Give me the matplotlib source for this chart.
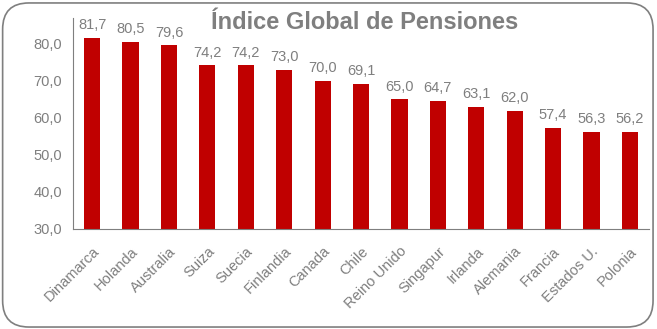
import numpy as np
import matplotlib.pyplot as plt
from matplotlib.patches import FancyBboxPatch

paises = ['Dinamarca', 'Holanda', 'Australia', 'Suiza', 'Suecia', 'Finlandia', 'Canada',
          'Chile', 'Reino Unido', 'Singapur', 'Irlanda', 'Alemania', 'Francia',
          'Estados U.', 'Polonia']
indice = [81.7, 80.5, 79.6, 74.2, 74.2, 73.0, 70.0, 69.1, 65.0, 64.7, 63.1, 62.0, 57.4, 56.3, 56.2]
yticks = [30, 40, 50, 60, 70, 80]

plt.rcParams['font.family'] = ['Liberation Sans', 'DejaVu Sans']
gris = '#7f7f7f'
rojo = '#c00000'

fig = plt.figure(figsize=(6.57, 3.29), dpi=100)
marco = FancyBboxPatch((0.004, 0.006), 0.99, 0.985, boxstyle='round,pad=0,rounding_size=0.04',
                       transform=fig.transFigure, facecolor='white', edgecolor=gris,
                       linewidth=1.2, mutation_aspect=2.0, zorder=-1)
fig.patches.append(marco)

ax = fig.add_axes([0.111, 0.304, 0.877, 0.641])
ax.set_facecolor('none')
x = np.arange(len(paises))
barras = ax.bar(x, indice, width=0.42, color=rojo, bottom=0)
ax.set_ylim(30, 87)
ax.set_xlim(-0.5, len(paises) - 0.5)
ax.set_yticks(yticks)
ax.set_yticklabels([f'{v:.1f}'.replace('.', ',') for v in yticks], color=gris, fontsize=10.5)
ax.set_xticks(x)
ax.set_xticklabels(paises, rotation=45, ha='right', rotation_mode='anchor', color=gris, fontsize=10.5)
ax.tick_params(axis='y', length=0, pad=8)
ax.tick_params(axis='x', length=0, pad=11)

for lado in ['top', 'right']:
    ax.spines[lado].set_visible(False)
ax.spines['left'].set_color(gris)
ax.spines['bottom'].set_color(gris)

for xi, v in zip(x, indice):
    ax.text(xi, v + 1.6, f'{v:.1f}'.replace('.', ','), ha='center', va='bottom',
            color=gris, fontsize=10.5)

fig.text(0.555, 0.933, 'Índice Global de Pensiones', ha='center', va='center',
         fontsize=17, fontweight='bold', color=gris)

fig.savefig('out.png', dpi=100)
